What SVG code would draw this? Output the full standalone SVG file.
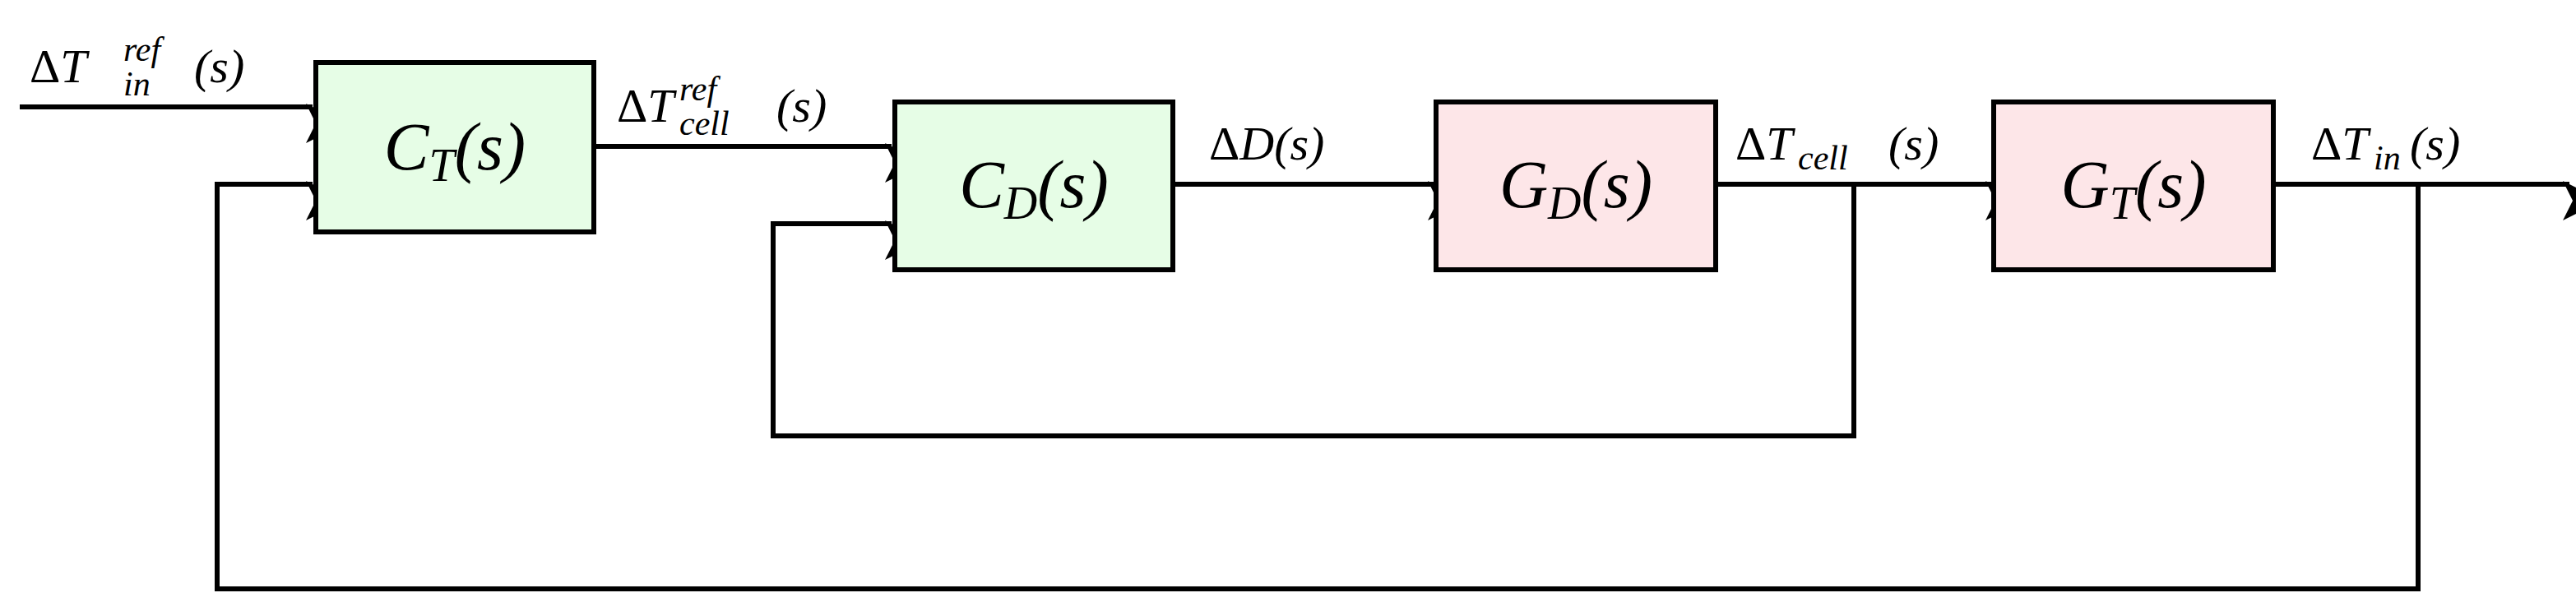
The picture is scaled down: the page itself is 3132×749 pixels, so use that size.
<svg xmlns="http://www.w3.org/2000/svg" width="3132" height="749" viewBox="0 0 3132 749">
<style>
.g{fill:#e6fde6;stroke:#000;stroke-width:6}
.r{fill:#fde6e8;stroke:#000;stroke-width:6}
.l{fill:none;stroke:#000;stroke-width:6}
text{font-family:"Liberation Serif",serif;font-style:italic;fill:#000}
.b{font-size:82px}
.t{font-size:58px}
.s{font-size:42px}
.u{font-style:normal}
</style>
<defs><marker id="a" viewBox="0 0 10 10" refX="10" refY="5" markerWidth="8" markerHeight="8" markerUnits="userSpaceOnUse" orient="auto" style="overflow:visible"><path d="M0,0 L10,5 L0,10 L2.5,5 Z" transform="scale(6)" fill="#000"/></marker></defs>
<g id="connectors">
<path class="l" d="M24,130 H380" marker-end="url(#a)"/>
<path class="l" d="M722,178 H1084" marker-end="url(#a)"/>
<path class="l" d="M1426,224 H1744" marker-end="url(#a)"/>
<path class="l" d="M2086,224 H2422" marker-end="url(#a)"/>
<path class="l" d="M2764,224 H3124" marker-end="url(#a)"/>
<path class="l" d="M2254,224 V530 H940 V272 H1084" marker-end="url(#a)"/>
<path class="l" d="M2940,224 V716 H264 V224 H380" marker-end="url(#a)"/>
</g>
<g id="CT"><rect class="g" x="384" y="76" width="338" height="206"/><text class="b" x="553" y="206" text-anchor="middle">C<tspan font-size="56" dy="14">T</tspan><tspan dy="-14">(s)</tspan></text></g>
<g id="CD"><rect class="g" x="1088" y="124" width="338" height="204"/><text class="b" x="1257" y="252" text-anchor="middle">C<tspan font-size="56" dy="14">D</tspan><tspan dy="-14">(s)</tspan></text></g>
<g id="GD"><rect class="r" x="1746" y="124" width="340" height="204"/><text class="b" x="1916" y="252" text-anchor="middle">G<tspan font-size="56" dy="14">D</tspan><tspan dy="-14">(s)</tspan></text></g>
<g id="GT"><rect class="r" x="2424" y="124" width="340" height="204"/><text class="b" x="2594" y="252" text-anchor="middle">G<tspan font-size="56" dy="14">T</tspan><tspan dy="-14">(s)</tspan></text></g>
<g id="labels">
<text class="t" x="36" y="100"><tspan class="u">Δ</tspan>T</text><text class="s" x="150" y="74">ref</text><text class="s" x="150" y="116">in</text><text class="t" x="236" y="100">(s)</text>
<text class="t" x="750" y="148"><tspan class="u">Δ</tspan>T</text><text class="s" x="826" y="122">ref</text><text class="s" x="826" y="164">cell</text><text class="t" x="944" y="148">(s)</text>
<text class="t" x="1470" y="194"><tspan class="u">Δ</tspan>D(s)</text>
<text class="t" x="2110" y="194"><tspan class="u">Δ</tspan>T</text><text class="s" x="2186" y="206">cell</text><text class="t" x="2296" y="194">(s)</text>
<text class="t" x="2810" y="194"><tspan class="u">Δ</tspan>T</text><text class="s" x="2886" y="206">in</text><text class="t" x="2930" y="194">(s)</text>
</g>
</svg>
